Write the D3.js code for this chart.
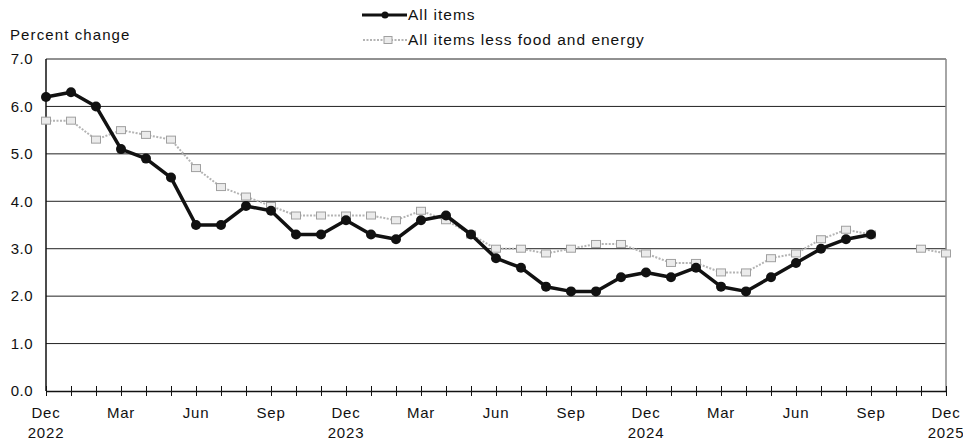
<!DOCTYPE html>
<html>
<head>
    <title>CPI percent change</title>
    <script src="https://d3js.org/d3.v7.min.js"></script>
    <style>
        body { margin: 0; background: #fff; }
        text { font-family: "Liberation Sans", Arial, sans-serif; fill: #111; }
    </style>
</head>
<body>
    <script>
        // 12-month percent change, Dec 2022 .. Dec 2025
        const allItems = [6.2, 6.3, 6.0, 5.1, 4.9, 4.5, 3.5, 3.5, 3.9, 3.8, 3.3, 3.3,
                          3.6, 3.3, 3.2, 3.6, 3.7, 3.3, 2.8, 2.6, 2.2, 2.1, 2.1, 2.4,
                          2.5, 2.4, 2.6, 2.2, 2.1, 2.4, 2.7, 3.0, 3.2, 3.3];
        const coreItems = [5.7, 5.7, 5.3, 5.5, 5.4, 5.3, 4.7, 4.3, 4.1, 3.9, 3.7, 3.7,
                           3.7, 3.7, 3.6, 3.8, 3.6, 3.3, 3.0, 3.0, 2.9, 3.0, 3.1, 3.1,
                           2.9, 2.7, 2.7, 2.5, 2.5, 2.8, 2.9, 3.2, 3.4, 3.3, null, 3.0, 2.9];
        const monthCount = 37;
        const monthLabels = ["Dec", "Mar", "Jun", "Sep", "Dec", "Mar", "Jun", "Sep", "Dec", "Mar", "Jun", "Sep", "Dec"];
        const yearLabels = ["2022", "", "", "", "2023", "", "", "", "2024", "", "", "", "2025"];
        const yTicks = [0, 1, 2, 3, 4, 5, 6, 7];

        const W = 963, H = 440;
        const margin = {top: 59, right: 17, bottom: 49, left: 46};

        const svg = d3.select("body")
          .append("svg")
            .attr("width", W)
            .attr("height", H);

        const x = d3.scaleLinear()
          .domain([0, monthCount - 1])
          .range([margin.left, W - margin.right]);
        const y = d3.scaleLinear()
          .domain([0, 7])
          .range([H - margin.bottom, margin.top]);

        // gridlines
        svg.append("g")
          .selectAll("line")
          .data(yTicks.filter(d => d > 0))
          .enter().append("line")
            .attr("x1", x(0)).attr("x2", x(monthCount - 1))
            .attr("y1", d => y(d)).attr("y2", d => y(d))
            .attr("stroke", "#222")
            .attr("stroke-width", 1);

        // right border
        svg.append("line")
          .attr("x1", x(monthCount - 1)).attr("x2", x(monthCount - 1))
          .attr("y1", y(7)).attr("y2", y(0))
          .attr("stroke", "#888").attr("stroke-width", 1.5);

        // left axis
        svg.append("line")
          .attr("x1", x(0)).attr("x2", x(0))
          .attr("y1", y(7)).attr("y2", y(0))
          .attr("stroke", "#111").attr("stroke-width", 1.5);

        // y labels
        svg.append("g")
          .selectAll("text")
          .data(yTicks)
          .enter().append("text")
            .attr("x", 33)
            .attr("y", d => y(d))
            .attr("dy", "0.35em")
            .attr("text-anchor", "end")
            .style("font-size", "15px")
            .style("letter-spacing", "0.5px")
            .text(d => d.toFixed(1));

        // bottom axis with monthly ticks
        const xAxis = d3.axisBottom(x)
          .tickValues(d3.range(monthCount))
          .tickSizeInner(5)
          .tickSizeOuter(0)
          .tickFormat("");
        const gx = svg.append("g")
          .attr("transform", `translate(0,${y(0)})`)
          .call(xAxis);
        gx.select(".domain").attr("stroke", "#111").attr("stroke-width", 1.5);
        gx.selectAll(".tick line").attr("y1", -5).attr("stroke", "#111");

        // month / year labels every 3 months
        const labelIdx = d3.range(0, monthCount, 3);
        svg.append("g")
          .selectAll("text")
          .data(labelIdx)
          .enter().append("text")
            .attr("x", d => x(d))
            .attr("y", 418)
            .attr("text-anchor", "middle")
            .style("font-size", "15px")
            .style("letter-spacing", "0.8px")
            .text((d, i) => monthLabels[i]);
        svg.append("g")
          .selectAll("text")
          .data(labelIdx)
          .enter().append("text")
            .attr("x", d => x(d))
            .attr("y", 438)
            .attr("text-anchor", "middle")
            .style("font-size", "15px")
            .style("letter-spacing", "0.8px")
            .text((d, i) => yearLabels[i]);

        // axis title
        svg.append("text")
          .attr("x", 10)
          .attr("y", 40)
          .style("font-size", "15px")
          .style("letter-spacing", "1.1px")
          .text("Percent change");

        // core line (gray dotted, square markers)
        const coreLine = d3.line()
          .defined(d => d != null)
          .x((d, i) => x(i))
          .y(d => y(d));
        svg.append("path")
          .datum(coreItems)
          .attr("fill", "none")
          .attr("stroke", "#b4b4b4")
          .attr("stroke-width", 2)
          .attr("stroke-dasharray", "2,1.5")
          .attr("d", coreLine);
        svg.append("g")
          .selectAll("rect")
          .data(coreItems.map((v, i) => ({v, i})).filter(d => d.v != null))
          .enter().append("rect")
            .attr("x", d => x(d.i) - 4.5)
            .attr("y", d => y(d.v) - 3.5)
            .attr("width", 9)
            .attr("height", 7)
            .attr("fill", "#ebebeb")
            .attr("stroke", "#a0a0a0")
            .attr("stroke-width", 1);

        // all items line (black, round markers)
        const allLine = d3.line()
          .x((d, i) => x(i))
          .y(d => y(d));
        svg.append("path")
          .datum(allItems)
          .attr("fill", "none")
          .attr("stroke", "#111")
          .attr("stroke-width", 3.5)
          .attr("stroke-linejoin", "round")
          .attr("d", allLine);
        svg.append("g")
          .selectAll("circle")
          .data(allItems)
          .enter().append("circle")
            .attr("cx", (d, i) => x(i))
            .attr("cy", d => y(d))
            .attr("r", 5)
            .attr("fill", "#111");

        // legend
        const legend = svg.append("g");
        legend.append("line")
          .attr("x1", 362).attr("x2", 407).attr("y1", 15).attr("y2", 15)
          .attr("stroke", "#111").attr("stroke-width", 3);
        legend.append("circle")
          .attr("cx", 385).attr("cy", 15).attr("r", 3.5).attr("fill", "#111");
        legend.append("text")
          .attr("x", 408).attr("y", 20)
          .style("font-size", "15.5px")
          .style("letter-spacing", "1px")
          .text("All items");
        legend.append("line")
          .attr("x1", 363).attr("x2", 407).attr("y1", 40).attr("y2", 40)
          .attr("stroke", "#b4b4b4").attr("stroke-width", 2)
          .attr("stroke-dasharray", "2,1.5");
        legend.append("rect")
          .attr("x", 384).attr("y", 36.5).attr("width", 8).attr("height", 7)
          .attr("fill", "#ebebeb").attr("stroke", "#a0a0a0");
        legend.append("text")
          .attr("x", 408).attr("y", 45)
          .style("font-size", "15.5px")
          .style("letter-spacing", "1px")
          .text("All items less food and energy");
    </script>
</body>
</html>
